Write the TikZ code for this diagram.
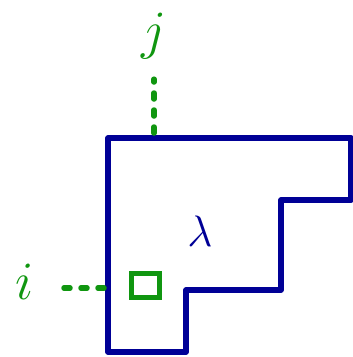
\documentclass[tikz,border=0pt]{standalone}
\usepackage{fix-cm}
\usetikzlibrary{positioning}
\definecolor{ydblue}{RGB}{0,0,150}
\definecolor{ydgreen}{RGB}{16,150,16}
\tikzset{
  ydedge/.style ={draw=ydblue, line width=5.5pt, line join=round, line cap=round},
  ydmark/.style ={draw=ydgreen, line width=5.5pt, line cap=round, dash pattern=on 6pt off 11pt},
  ydcell/.style ={rectangle, draw=ydgreen, line width=5pt, minimum width=28pt,
                  minimum height=24pt, inner sep=0pt},
  ydlbl/.style  ={text=ydgreen, font=\fontsize{54}{54}\selectfont, inner sep=0pt},
  ydname/.style ={text=ydblue, font=\fontsize{44}{44}\selectfont, inner sep=0pt},
}
\begin{document}
\begin{tikzpicture}[x=1pt,y=-1pt]
    \useasboundingbox (0,0) rectangle (353,357);
    % outline of the diagram
    \draw[ydedge] (108,138) -- (351,138) -- (351,200) -- (281,200) -- (281,290)
        -- (186,290) -- (186,352) -- (108,352) -- cycle;
    \node[ydname] (lam) at (200,231) {$\lambda$};
    \node[ydcell] (box) at (145,285) {};
    \node[ydlbl] (j) at (154,36) {$j$};
    \node[ydlbl] (i) at (25,282) {$i$};
    \coordinate (top) at (154,133);
    \coordinate (left) at (104,288);
    \draw[ydmark, shorten >=20pt] (top) -- (j.south -| top);
    \draw[ydmark, shorten >=26pt] (left) -- (i.east |- left);
\end{tikzpicture}
\end{document}
